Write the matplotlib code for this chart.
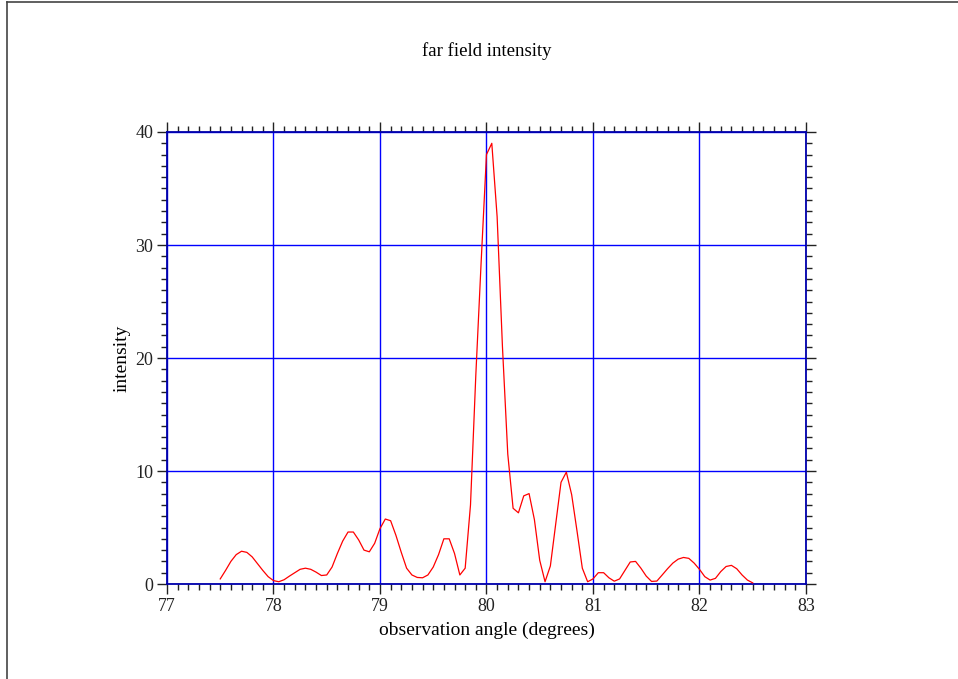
import numpy as np
import matplotlib
matplotlib.use("Agg")
import matplotlib.pyplot as plt
from matplotlib.lines import Line2D
from matplotlib.ticker import MultipleLocator

# observation angles (degrees), sampled every 0.05 deg
angle_start = 77.5
angle_step = 0.05

# far field intensity at each sampled angle
intensity = [
    0.45, 1.2, 2.0, 2.6, 2.9, 2.8, 2.4, 1.8, 1.2, 0.65,
    0.3, 0.2, 0.38, 0.7, 1.0, 1.3, 1.4, 1.3, 1.05, 0.75,
    0.8, 1.5, 2.7, 3.8, 4.6, 4.6, 3.9, 3.0, 2.85, 3.6,
    4.9, 5.75, 5.6, 4.3, 2.8, 1.4, 0.8, 0.58, 0.55, 0.8,
    1.5, 2.6, 4.0, 4.0, 2.7, 0.8, 1.4, 7.0, 18.5, 28.5,
    38.0, 39.0, 32.5, 21.0, 11.5, 6.7, 6.3, 7.8, 8.0, 5.7,
    2.1, 0.2, 1.6, 5.3, 9.0, 9.9, 7.9, 4.7, 1.4, 0.2,
    0.45, 1.0, 1.0, 0.55, 0.25, 0.45, 1.2, 1.95, 2.0, 1.4,
    0.7, 0.23, 0.26, 0.8, 1.35, 1.85, 2.2, 2.35, 2.27, 1.85,
    1.3, 0.65, 0.35, 0.5, 1.1, 1.55, 1.65, 1.35, 0.8, 0.35,
    0.1,
]
angle = angle_start + angle_step * np.arange(len(intensity))

plt.rcParams['font.family'] = ['Liberation Serif', 'DejaVu Serif']

fig = plt.figure(figsize=(9.58, 6.79), dpi=100)
ax = fig.add_axes([0.1743, 0.1399, 0.8413 - 0.1743, 0.8056 - 0.1399])

ax.grid(True, which='major', color='#0000ff', linewidth=1.0)
ax.set_axisbelow(True)
ax.plot(angle, intensity, color='#ff0000', linewidth=0.9, zorder=3)

ax.set_xlim(77, 83)
ax.set_ylim(0, 40)
ax.xaxis.set_major_locator(MultipleLocator(1))
ax.xaxis.set_minor_locator(MultipleLocator(0.1))
ax.yaxis.set_major_locator(MultipleLocator(10))
ax.yaxis.set_minor_locator(MultipleLocator(1))

ax.tick_params(which='both', direction='out', top=True, right=True,
               colors='#222222', labelsize=13, width=1.0)
ax.tick_params(which='major', length=7, pad=3)
ax.tick_params(which='minor', length=4)

for s in ax.spines.values():
    s.set_color('#0000aa')
    s.set_linewidth(1.3)

ax.set_title('far field intensity', fontsize=13.5, pad=55)
ax.set_xlabel('observation angle (degrees)', fontsize=14, labelpad=5)
ax.set_ylabel('intensity', fontsize=14, labelpad=3)

# outer frame along the left and top edges
fig.add_artist(Line2D([0.0078, 0.0078], [0.0, 0.997], transform=fig.transFigure,
                      color='#444444', linewidth=1.2))
fig.add_artist(Line2D([0.0078, 1.0], [0.997, 0.997], transform=fig.transFigure,
                      color='#444444', linewidth=1.2))

fig.savefig('out.png', dpi=100)
